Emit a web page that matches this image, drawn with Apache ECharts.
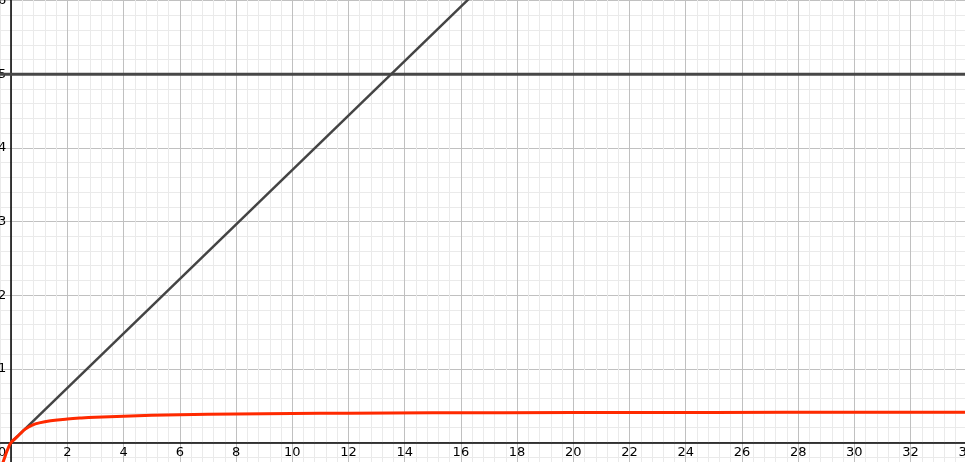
<!DOCTYPE html>
<html>
<head>
<meta charset="utf-8">
<script src="https://cdn.jsdelivr.net/npm/echarts@6/dist/echarts.min.js"></script>
<style>
html,body{margin:0;padding:0;background:#fff;overflow:hidden;width:965px;height:462px;}
#main{position:absolute;left:-45px;top:-73px;width:1068px;height:589px;}
</style>
</head>
<body>
<div id="main"></div>
<script>
// Red saturating curve
var curveX = [-0.3, -0.2, -0.1, 0, 0.15, 0.3, 0.5, 0.75, 1, 1.4, 2, 2.5, 3, 4, 5, 6, 8, 10, 12, 15, 20, 25, 30, 34];
var curveY = [-0.28, -0.17, -0.07, 0, 0.055, 0.11, 0.18, 0.235, 0.265, 0.293, 0.318, 0.332, 0.342, 0.356, 0.367, 0.376, 0.386, 0.393, 0.397, 0.401, 0.405, 0.407, 0.409, 0.41];
// Straight line through the origin
var slopeX = [0, 18];
var slopeY = [0, 6.66];
// Horizontal line
var levelX = [-2, 36];
var levelY = [5, 5];
// Axis ranges
var xRange = [-2, 36];
var yRange = [-1, 7];

function pairs(xs, ys) { return xs.map(function (x, i) { return [x, ys[i]]; }); }

var W = 1068, H = 589;
var xZeroOffset = W * (0 - xRange[0]) / (xRange[1] - xRange[0]);
var yZeroOffset = H * (0 - yRange[0]) / (yRange[1] - yRange[0]);

var chart = echarts.init(document.getElementById('main'), null, {renderer: 'canvas', width: W, height: H});
var labelFont = {color: '#000', fontSize: 13, fontFamily: 'DejaVu Sans'};
chart.setOption({
  animation: false,
  backgroundColor: '#ffffff',
  grid: {left: 0, right: 0, top: 0, bottom: 0, containLabel: false, outerBoundsMode: 'none'},
  xAxis: {
    type: 'value', min: xRange[0], max: xRange[1], interval: 2,
    position: 'bottom', offset: -yZeroOffset,
    axisLine: {show: true, onZero: false, lineStyle: {color: '#000', width: 1.5}},
    axisTick: {show: false},
    minorTick: {show: false, splitNumber: 5},
    splitLine: {show: true, lineStyle: {color: '#c0c0c0', width: 1, type: 'solid'}},
    minorSplitLine: {show: true, lineStyle: {color: '#eaeaea', width: 1, type: 'solid'}},
    axisLabel: Object.assign({
      margin: 4,
      formatter: function (v) { return v === 0 ? '{z|0}' : String(v); },
      rich: {z: {padding: [0, 18, 0, 0], fontSize: 13, fontFamily: 'DejaVu Sans', color: '#000'}}
    }, labelFont)
  },
  yAxis: {
    type: 'value', min: yRange[0], max: yRange[1], interval: 1,
    position: 'left', offset: -xZeroOffset,
    axisLine: {show: true, onZero: false, lineStyle: {color: '#000', width: 1.5}},
    axisTick: {show: false},
    minorTick: {show: false, splitNumber: 5},
    splitLine: {show: true, lineStyle: {color: '#c0c0c0', width: 1, type: 'solid'}},
    minorSplitLine: {show: true, lineStyle: {color: '#eaeaea', width: 1, type: 'solid'}},
    axisLabel: Object.assign({
      margin: 5,
      formatter: function (v) { return v === 0 ? '' : String(v); }
    }, labelFont)
  },
  series: [
    {type: 'line', data: pairs(levelX, levelY), symbol: 'none', lineStyle: {color: '#474747', width: 3}, z: 3},
    {type: 'line', data: pairs(slopeX, slopeY), symbol: 'none', lineStyle: {color: '#444444', width: 2.5}, z: 4},
    {type: 'line', data: pairs(curveX, curveY), symbol: 'none', smooth: 0.4, lineStyle: {color: '#ff2a00', width: 3}, z: 5}
  ]
});
</script>
</body>
</html>
